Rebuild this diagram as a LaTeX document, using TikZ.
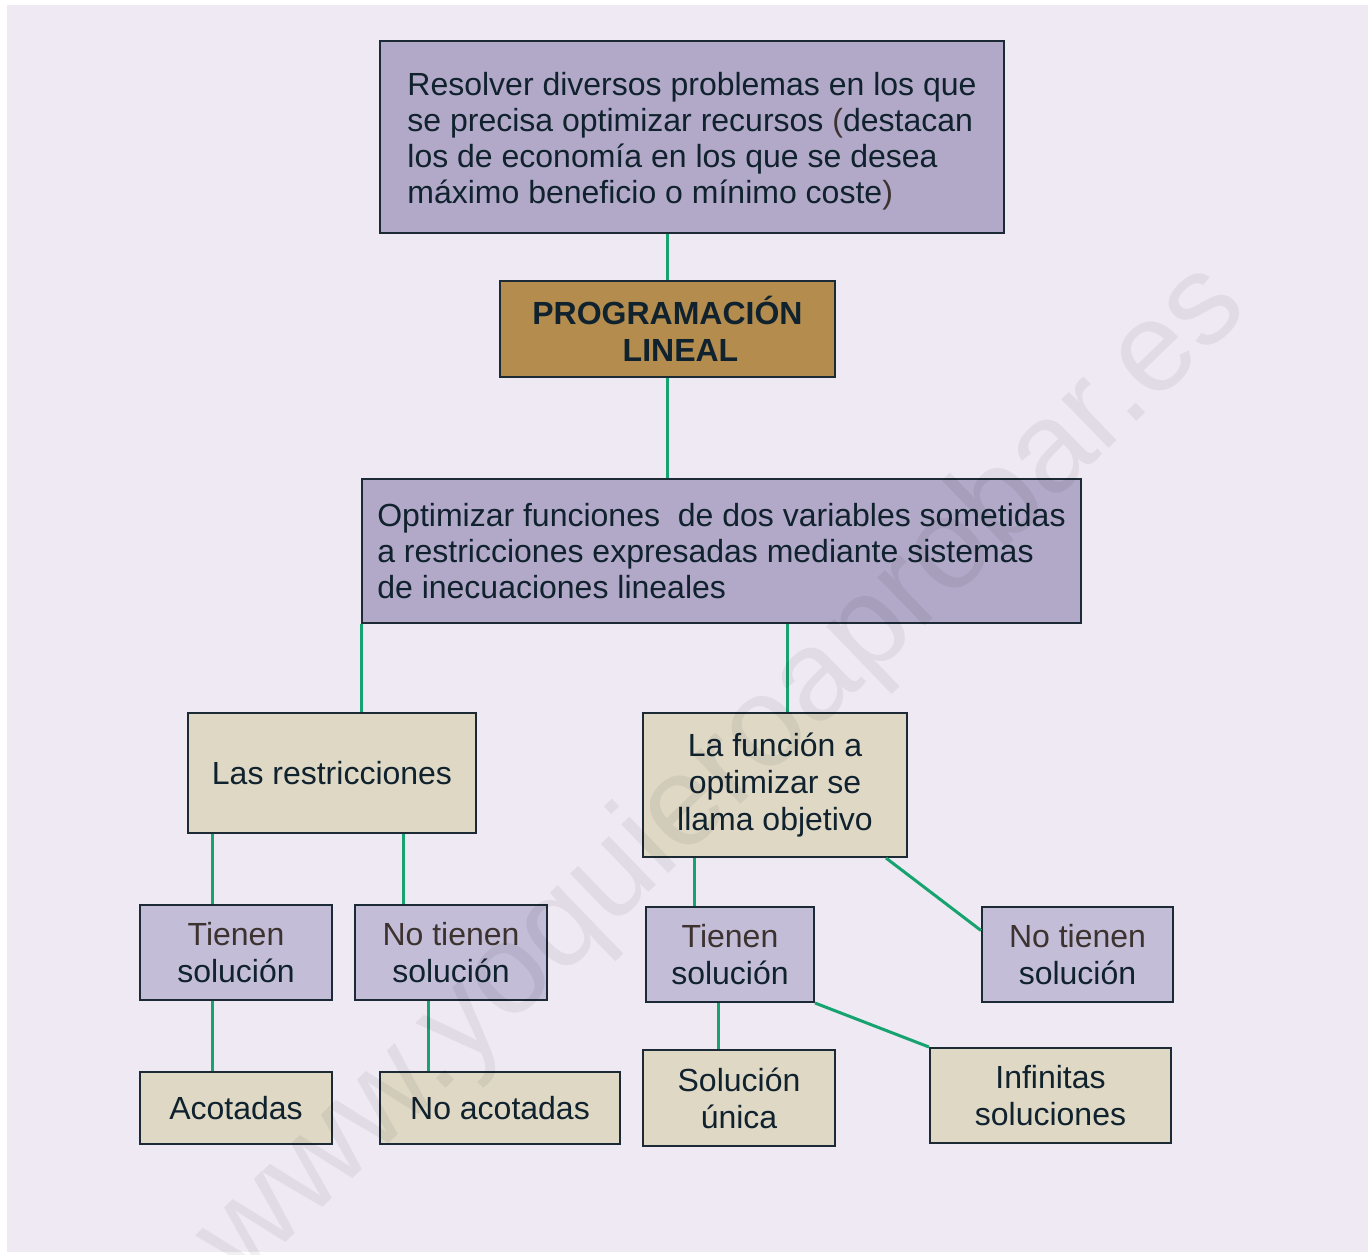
\documentclass[tikz,border=0pt]{standalone}
\usepackage{fontspec}
\setmainfont{Liberation Sans}
\usepackage{xcolor}
\usepackage{tikz}

\definecolor{fondo}{RGB}{239,233,244}
\definecolor{moradoOsc}{RGB}{178,168,200}
\definecolor{lila}{RGB}{196,189,216}
\definecolor{crema}{RGB}{223,216,197}
\definecolor{ocre}{RGB}{179,140,78}
\definecolor{borde}{RGB}{27,42,53}
\definecolor{verde}{RGB}{22,163,112}
\definecolor{tinta}{RGB}{16,34,46}
\definecolor{tintaMarron}{RGB}{60,50,47}
\newcommand{\tmarron}[1]{\textcolor{tintaMarron}{#1}}

\begin{document}
\begin{tikzpicture}[x=0.5pt, y=-0.5pt, every edge/.style={draw=verde, line width=1.5pt}]
    \tikzstyle{caja}=[draw=borde, line width=1pt, rectangle, text=tinta, inner sep=0pt, align=center, font=\fontsize{16}{18.5}\selectfont]
    \tikzstyle{morado}=[fill=moradoOsc]
    \tikzstyle{claro}=[fill=lila]
    \tikzstyle{beige}=[fill=crema]
    \tikzset{tam/.style 2 args={minimum width=#1*0.5pt, minimum height=#2*0.5pt}}

    % Fondo
    \useasboundingbox (0,0) rectangle (1371,1254);
    \fill[fondo] (7,5) rectangle (1368,1252);

    % Cajas de arriba
    \node[caja, morado, tam={624}{192}, align=left, font=\fontsize{16}{18}\selectfont] (recursos) at (692,137)
        {\rule{0pt}{15.7pt}Resolver diversos problemas en los que\\se precisa optimizar recursos \tmarron{(}destacan\\los de economía en los que se desea\\máximo beneficio o mínimo coste\tmarron{)}};
    \node[caja, fill=ocre, tam={335}{96}, font=\bfseries\fontsize{16}{18.5}\selectfont] (prog) at (667.5,329) {PROGRAMACIÓN\\\hspace*{13pt}LINEAL};
    \node[caja, morado, tam={719}{144}, align=left, font=\fontsize{16}{18}\selectfont] (optim) at (721.5,551)
        {Optimizar funciones \ de dos variables sometidas\\a restricciones expresadas mediante sistemas\\de inecuaciones lineales};

    % Rama de las restricciones
    \node[caja, beige, tam={288}{120}] (restr)  at (332,773)    {Las restricciones};
    \node[caja, claro, tam={192}{95}]  (tsol1)  at (236,952.5)  {\tmarron{Tienen}\\solución};
    \node[caja, claro, tam={192}{95}]  (ntsol1) at (451,952.5)  {\tmarron{No tienen}\\solución};
    \node[caja, beige, tam={192}{72}]  (acot)   at (236,1108)   {Acotadas};
    \node[caja, beige, tam={240}{72}]  (noacot) at (500,1108)   {No acotadas};

    % Rama de la funcion objetivo
    \node[caja, beige, tam={264}{144}] (funcion) at (775,785)    {La función a\\optimizar se\\llama objetivo};
    \node[caja, claro, tam={168}{95}]  (tsol2)   at (730,954.5)  {\tmarron{Tienen}\\solución};
    \node[caja, claro, tam={191}{95}]  (ntsol2)  at (1077.5,954.5) {\tmarron{No tienen}\\solución};
    \node[caja, beige, tam={192}{96}]  (unica)   at (739,1098)   {Solución\\única};
    \node[caja, beige, tam={241}{95}]  (infin)   at (1050.5,1095.5) {Infinitas\\soluciones};

    \path
        (prog.north)                  edge (prog.north |- recursos.south)
        (prog.south)                  edge (prog.south |- optim.north)
        (optim.south west)            edge (optim.south west |- restr.north)
        ([xshift=6pt]funcion.north)   edge ([xshift=6pt]funcion.north |- optim.south)
        ([xshift=-12pt]tsol1.north)   edge ([xshift=-12pt]tsol1.north |- restr.south)
        ([xshift=-24pt]ntsol1.north)  edge ([xshift=-24pt]ntsol1.north |- restr.south)
        ([xshift=-12pt]acot.north)    edge ([xshift=-12pt]acot.north |- tsol1.south)
        ([xshift=-36pt]noacot.north)  edge ([xshift=-36pt]noacot.north |- ntsol1.south)
        ([xshift=-18pt]tsol2.north)   edge ([xshift=-18pt]tsol2.north |- funcion.south)
        ([xshift=-11pt]funcion.south east) edge ([yshift=12pt]ntsol2.west)
        ([xshift=-10.5pt]unica.north) edge ([xshift=-10.5pt]unica.north |- tsol2.south)
        (tsol2.south east)            edge (infin.north west)
    ;

    % Marca de agua
    \node[rotate=44, text=black, text opacity=0.06, font=\fontsize{64}{64}\selectfont] (marca) at (724,774) {www.yoquieroaprobar.es};
\end{tikzpicture}
\end{document}
